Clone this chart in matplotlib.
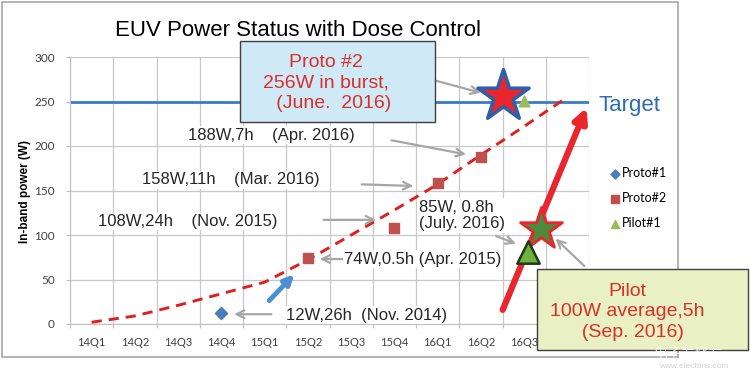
import matplotlib.pyplot as plt
from matplotlib.patches import Rectangle

plt.rcParams['font.family'] = ['Liberation Sans', 'DejaVu Sans']

# category axis
quarters = ['14Q1', '14Q2', '14Q3', '14Q4', '15Q1', '15Q2',
            '15Q3', '15Q4', '16Q1', '16Q2', '16Q3', '16Q4']

# measured points (x = quarter index)
proto1_x = [3]
proto1_y = [12]
proto2_x = [5, 7, 8, 9]
proto2_y = [74, 108, 158, 188]
pilot1_x = [10]
pilot1_y = [251]

# dashed trend line
trend_x = [0, 1, 2, 3, 4, 5, 6, 7, 8, 9, 10, 11]
trend_y = [2, 9, 21, 34, 47, 72, 100, 128, 157, 190, 222, 255]

target = 250

# highlighted results
burst_x, burst_y = [9.5], [256]            # Proto #2 burst (star)
pilot_avg_x, pilot_avg_y = [10.38], [107]  # Pilot 100W average (star)
pilot_085_x, pilot_085_y = [10.08], [81]   # 85W, 0.8h (triangle)

fig = plt.figure(figsize=(7.5, 3.83), dpi=100)
W, H = 750, 383


def fbox(x0, y0, x1, y1, **kw):
    # rectangle given in pixel coords from top-left
    r = Rectangle((x0 / W, 1 - y1 / H), (x1 - x0) / W, (y1 - y0) / H,
                  transform=fig.transFigure, **kw)
    fig.patches.append(r)


# outer frame
fbox(2, 2, 678, 357, fill=False, ec='#a6a6a6', lw=1.2, zorder=0)

ax = fig.add_axes([70 / W, 1 - 324 / H, 519 / W, 267 / H])
ax.set_xlim(-0.5, 11.5)
ax.set_ylim(0, 300)
ax.set_xticks(range(len(quarters)))
ax.set_xticklabels(quarters, fontsize=8, color='#404040', family='Lato')
ax.set_xticks([i - 0.5 for i in range(len(quarters) + 1)], minor=True)
ax.set_yticks(range(0, 301, 50))
ax.set_yticklabels([str(v) for v in range(0, 301, 50)], family='Lato')
ax.tick_params(axis='y', labelsize=8.5, colors='#404040', length=3, width=0.9,
               color='#c0c0c0', pad=8)
ax.tick_params(axis='x', which='major', length=0, pad=9)
ax.tick_params(axis='x', which='minor', length=3, width=0.9, color='#c0c0c0')
ax.grid(axis='x', which='minor', color='#c8c8c8', lw=0.9)
ax.grid(axis='y', which='major', color='#c8c8c8', lw=0.9)
for s in ['top', 'right']:
    ax.spines[s].set_visible(False)
ax.spines['left'].set_color('#c0c0c0')
ax.spines['bottom'].set_color('#c0c0c0')
ax.set_ylabel('In-band power (W)', fontsize=8.5, fontweight='bold')
ax.yaxis.set_label_coords(31 / W, 0.5, transform=fig.transFigure)

fig.text(298 / W, 1 - 30 / H, 'EUV Power Status with Dose Control',
         fontsize=16, ha='center', va='center')

# target line
ax.axhline(target, color='#3a7cc4', lw=2, zorder=2)
ax.text(11.72, 246, 'Target', color='#2e6db4', fontsize=16, va='center',
        clip_on=False)

# trend
ax.plot(trend_x, trend_y, color='#e02020', lw=2.1, dashes=(3.5, 2.4), zorder=3)

# series
ax.scatter(proto1_x, proto1_y, marker='D', s=38, color='#4a7ebb', zorder=5,
           label='Proto#1')
ax.scatter(proto2_x, proto2_y, marker='s', s=55, color='#c0504d', zorder=5,
           label='Proto#2')
ax.scatter(pilot1_x, pilot1_y, marker='^', s=60, color='#9bbb59', zorder=5,
           label='Pilot#1')

leg = ax.legend(loc='upper left', bbox_to_anchor=(609 / W, 1 - 167 / H),
                bbox_transform=fig.transFigure, frameon=False,
                prop={'family': 'Lato', 'size': 9}, borderpad=0, borderaxespad=0,
                handlelength=1.0, handletextpad=0.0, labelspacing=1.05,
                markerscale=0.75)

# stars and triangle highlights
ax.scatter(burst_x, burst_y, marker='*', s=1500, color='#e8262c',
           edgecolors='#2e5fa8', linewidths=2.5, zorder=7, clip_on=False)
ax.scatter(pilot_avg_x, pilot_avg_y, marker='*', s=1000, color='#4e8a3c',
           edgecolors='#e8262c', linewidths=2, zorder=7, clip_on=False)
ax.scatter(pilot_085_x, pilot_085_y, marker='^', s=260, color='#6fb03e',
           edgecolors='#1f3d15', linewidths=1.8, zorder=8)

grey = dict(arrowstyle='->', color='#a6a6a6', lw=1.6, mutation_scale=14)
wbox = dict(fc='white', ec='none', pad=1)
tfont = dict(fontsize=12, color='#262626', va='center', ha='left', bbox=wbox, zorder=4)

ax.text(2.22, 212, '188W,7h    (Apr. 2016)', **tfont)
ax.annotate('', xy=(8.72, 190), xytext=(6.87, 207), arrowprops=grey)
ax.text(1.16, 162, '158W,11h    (Mar. 2016)', **tfont)
ax.annotate('', xy=(7.5, 155), xytext=(6.18, 157), arrowprops=grey)
ax.text(0.15, 115, '108W,24h    (Nov. 2015)', **tfont)
ax.annotate('', xy=(6.64, 117), xytext=(5.3, 117), arrowprops=grey)
ax.text(7.56, 122, '85W, 0.8h\n(July. 2016)', linespacing=1.15, **tfont)
ax.annotate('', xy=(9.87, 89), xytext=(9.29, 100), arrowprops=grey)
ax.text(5.84, 73, '74W,0.5h (Apr. 2015)', **tfont)
ax.annotate('', xy=(5.21, 73), xytext=(6.23, 73), arrowprops=grey)
ax.text(4.5, 10, '12W,26h  (Nov. 2014)', **tfont)
ax.annotate('', xy=(3.23, 11), xytext=(4.22, 11), arrowprops=grey)

# blue and red arrows
ax.annotate('', xy=(4.73, 58), xytext=(4.06, 24),
            arrowprops=dict(arrowstyle='-|>', color='#4a90d0', lw=3.5,
                            mutation_scale=14), zorder=6)
ax.annotate('', xy=(11.47, 246), xytext=(9.48, 13),
            arrowprops=dict(arrowstyle='-|>', color='#e8262c', lw=4.5,
                            mutation_scale=20), zorder=6)

# callout: Proto #2
ax.annotate('', xy=(9.06, 259), xytext=(7.91, 274), arrowprops=grey)
fbox(240, 41, 435, 122, fc='#cfe9f7', ec='#404040', lw=1, zorder=9)
fig.text(326 / W, 1 - 83 / H, 'Proto #2\n256W in burst,\n   (June.  2016)',
         fontsize=14, color='#d9302c', ha='center', va='center',
         linespacing=1.3, zorder=10)

# callout: Pilot
ax.annotate('', xy=(10.68, 98), xytext=(11.44, 63), arrowprops=grey)
fbox(537, 269, 748, 350, fc='#e8f0c4', ec='#404040', lw=1, zorder=9)
fig.text(627 / W, 1 - 312 / H, 'Pilot\n100W average,5h\n  (Sep. 2016)',
         fontsize=14, color='#d9302c', ha='center', va='center',
         linespacing=1.3, zorder=10)

# watermark
fig.text(688 / W, 1 - 353 / H, '电子发烧友', fontsize=10, color='#ffffff', alpha=0.8,
         ha='center', va='center', family=['Noto Sans CJK SC'], zorder=20)
fig.text(694 / W, 1 - 366 / H, 'www.elecfans.com', fontsize=6, color='#d0d0d0',
         ha='center', va='center', zorder=20)

fig.savefig('out.png', dpi=100)
